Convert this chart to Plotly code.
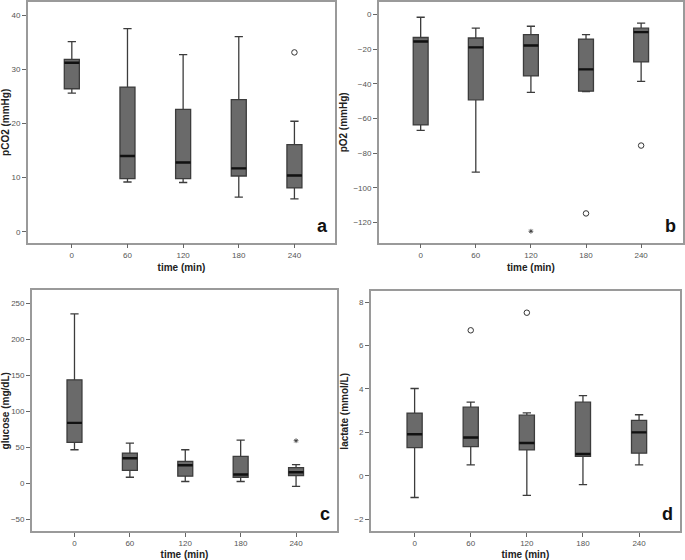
import plotly.graph_objects as go

categories = ["0", "60", "120", "180", "240"]

# panel a: pCO2
pco2_lo = [25.6, 9.2, 9.1, 6.4, 6.1]
pco2_q1 = [26.4, 9.8, 9.8, 10.3, 8.1]
pco2_med = [31.2, 14.0, 12.8, 11.7, 10.4]
pco2_q3 = [31.8, 26.7, 22.6, 24.4, 16.1]
pco2_hi = [35.1, 37.5, 32.7, 36.0, 20.4]
pco2_out_x = ["240"]
pco2_out_y = [33.1]
pco2_ext_x = []
pco2_ext_y = []

# panel b: pO2
po2_lo = [-66.8, -91.0, -44.9, -44.5, -38.6]
po2_q1 = [-63.7, -49.2, -35.4, -44.2, -27.3]
po2_med = [-15.5, -18.9, -17.8, -31.6, -10.1]
po2_q3 = [-13.2, -13.5, -11.6, -14.1, -7.8]
po2_hi = [-1.5, -7.8, -6.7, -11.5, -4.9]
po2_out_x = ["180", "240"]
po2_out_y = [-114.8, -75.6]
po2_ext_x = ["120"]
po2_ext_y = [-125.1]

# panel c: glucose
glu_lo = [46.8, 8.7, 2.8, 2.8, -4.1]
glu_q1 = [56.9, 18.3, 10.1, 8.7, 11.1]
glu_med = [84.0, 34.9, 25.2, 12.4, 15.6]
glu_q3 = [143.6, 42.2, 30.7, 37.6, 22.1]
glu_hi = [234.9, 56.0, 46.8, 60.0, 26.2]
glu_out_x = []
glu_out_y = []
glu_ext_x = ["240"]
glu_ext_y = [59.3]

# panel d: lactate
lac_lo = [-1.0, 0.5, -0.9, -0.41, 0.5]
lac_q1 = [1.30, 1.34, 1.19, 0.89, 1.04]
lac_med = [1.91, 1.76, 1.51, 1.0, 2.0]
lac_q3 = [2.89, 3.16, 2.79, 3.39, 2.55]
lac_hi = [4.02, 3.39, 2.9, 3.69, 2.81]
lac_out_x = ["60", "120"]
lac_out_y = [6.7, 7.51]
lac_ext_x = []
lac_ext_y = []

W, H = 685, 560
FONT = "Arial, Liberation Sans, sans-serif"
BOX_FILL = "#6a6a6a"
BOX_LINE = "#3c3c3c"
FRAME = "#9a9a9a"

panels = [
    dict(key="", lo=pco2_lo, q1=pco2_q1, med=pco2_med, q3=pco2_q3, hi=pco2_hi,
         ox=pco2_out_x, oy=pco2_out_y, ex=pco2_ext_x, ey=pco2_ext_y,
         px=(24, 333), py=(1, 243), xr=[-0.79, 4.73], yr=[-2.0, 42.4],
         tv=[0, 10, 20, 30, 40], ylab="pCO2 (mmHg)", letter="a"),
    dict(key="2", lo=po2_lo, q1=po2_q1, med=po2_med, q3=po2_q3, hi=po2_hi,
         ox=po2_out_x, oy=po2_out_y, ex=po2_ext_x, ey=po2_ext_y,
         px=(377, 683), py=(1, 243), xr=[-0.76, 4.76], yr=[-131.7, 7.3],
         tv=[0, -20, -40, -60, -80, -100, -120], ylab="pO2 (mmHg)", letter="b"),
    dict(key="3", lo=glu_lo, q1=glu_q1, med=glu_med, q3=glu_q3, hi=glu_hi,
         ox=glu_out_x, oy=glu_out_y, ex=glu_ext_x, ey=glu_ext_y,
         px=(28, 335), py=(291, 533), xr=[-0.77, 4.74], yr=[-66.0, 267.5],
         tv=[-50, 0, 50, 100, 150, 200, 250], ylab="glucose (mg/dL)", letter="c"),
    dict(key="4", lo=lac_lo, q1=lac_q1, med=lac_med, q3=lac_q3, hi=lac_hi,
         ox=lac_out_x, oy=lac_out_y, ex=lac_ext_x, ey=lac_ext_y,
         px=(369, 680), py=(292, 533), xr=[-0.78, 4.73], yr=[-2.55, 8.49],
         tv=[-2, 0, 2, 4, 6, 8], ylab="lactate (mmol/L)", letter="d"),
]

fig = go.Figure()
layout = dict(
    width=W, height=H, margin=dict(l=0, r=0, t=0, b=0),
    paper_bgcolor="white", plot_bgcolor="white", showlegend=False,
    boxmode="overlay", font=dict(family=FONT, size=8, color="#444444"),
    annotations=[],
)

for p in panels:
    k = p["key"]
    xa, ya = "x" + k, "y" + k
    fig.add_trace(go.Box(
        x=categories, q1=p["q1"], median=p["med"], q3=p["q3"],
        lowerfence=p["lo"], upperfence=p["hi"],
        xaxis=xa, yaxis=ya, width=0.27, whiskerwidth=0.55,
        fillcolor=BOX_FILL, line=dict(color=BOX_LINE, width=1.3),
        boxpoints=False, hoverinfo="skip",
    ))
    # thick black median line drawn as a flat box
    fig.add_trace(go.Box(
        x=categories, q1=p["med"], median=p["med"], q3=p["med"],
        lowerfence=p["med"], upperfence=p["med"],
        xaxis=xa, yaxis=ya, width=0.27, whiskerwidth=0,
        fillcolor="rgba(0,0,0,0)", line=dict(color="#111111", width=2.4),
        boxpoints=False, hoverinfo="skip",
    ))
    if p["ox"]:
        fig.add_trace(go.Scatter(
            x=p["ox"], y=p["oy"], mode="markers", xaxis=xa, yaxis=ya,
            marker=dict(symbol="circle-open", size=5.5, color="#333333",
                        line=dict(width=1)),
        ))
    if p["ex"]:
        fig.add_trace(go.Scatter(
            x=p["ex"], y=p["ey"], mode="markers", xaxis=xa, yaxis=ya,
            marker=dict(symbol="asterisk-open", size=4, color="#333333",
                        line=dict(width=0.8)),
        ))
    x0, x1 = p["px"]
    y0, y1 = p["py"]
    axis_common = dict(
        showline=True, linecolor=FRAME, linewidth=1.5, mirror=True,
        showgrid=False, zeroline=False, ticks="outside", ticklen=4,
        tickcolor="#666666", tickwidth=1,
        tickfont=dict(family=FONT, size=8, color="#555555"),
    )
    layout["xaxis" + k] = dict(
        axis_common, domain=[x0 / W, x1 / W], anchor=ya,
        type="category", categoryorder="array", categoryarray=categories,
        range=p["xr"],
        title=dict(text="time (min)", standoff=5,
                   font=dict(family=FONT, size=10, color="#222222", weight="bold")),
    )
    layout["yaxis" + k] = dict(
        axis_common, domain=[1 - y1 / H, 1 - y0 / H], anchor=xa,
        range=p["yr"], tickvals=p["tv"],
        title=dict(text=p["ylab"], standoff=4,
                   font=dict(family=FONT, size=10, color="#222222", weight="bold")),
    )
    layout["annotations"].append(dict(
        text=p["letter"], xref="x" + k + " domain", yref="y" + k + " domain",
        x=0.985, y=0.02, xanchor="right", yanchor="bottom", showarrow=False,
        font=dict(family=FONT, size=18, color="#111111", weight="bold"),
    ))

fig.update_layout(**layout)
fig.write_html(
    "out.html",
    config={"displayModeBar": False},
    post_script="document.body.style.margin='0';document.body.style.overflow='hidden';",
)
